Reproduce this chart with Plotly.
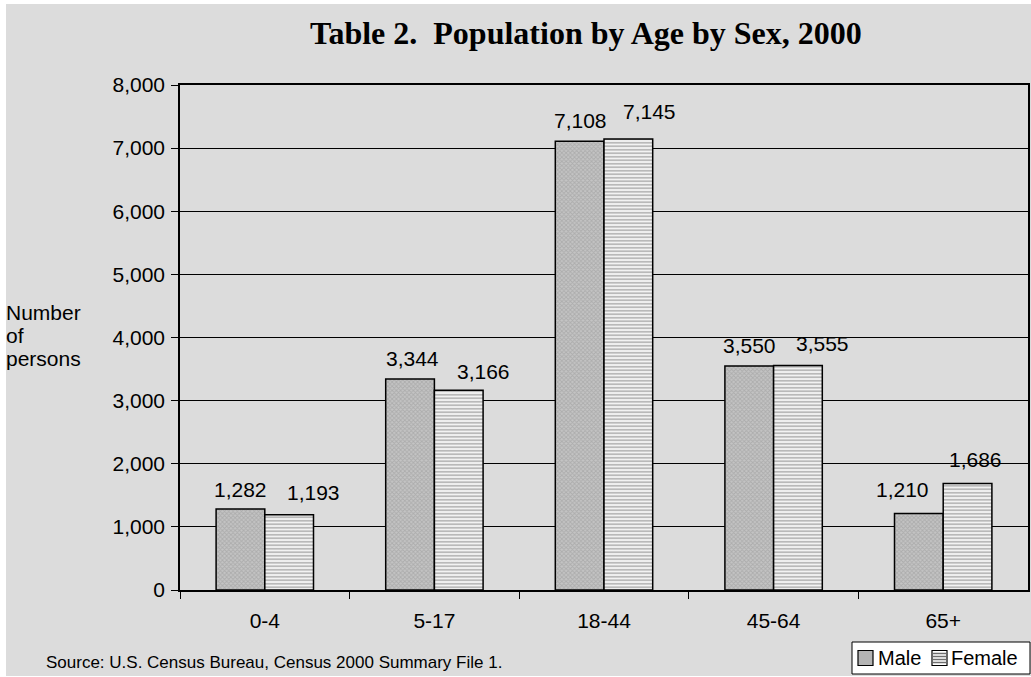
import plotly.graph_objects as go

# Population by age group and sex, Census 2000
age_groups = ["0-4", "5-17", "18-44", "45-64", "65+"]
male = [1282, 3344, 7108, 3550, 1210]
female = [1193, 3166, 7145, 3555, 1686]
y_ticks = [0, 1000, 2000, 3000, 4000, 5000, 6000, 7000, 8000]

# value-label nudges in pixels (dx right, dy up from the bar top)
male_label_dx = [0, 2, 1, 0, -16]
male_label_dy = [20, 20, 21, 20, 24]
female_label_dx = [24, 25, 21, 25, 8]
female_label_dy = [22, 19, 27, 22, 24]

W, H = 1031, 677
PX0, PX1 = 180, 1028   # plot area, pixels from left
PY0, PY1 = 85, 590     # plot area, pixels from top
BAR_PX = 48.7          # bar width in pixels

MALE_FILL, MALE_HATCH = "#c4c4c4", "#949494"
FEMALE_FILL, FEMALE_HATCH = "white", "#747474"

def px(x):
    return x / W

def py(y):
    return 1 - y / H

sans = "Arial, Liberation Sans, sans-serif"
serif = "Times New Roman, Liberation Serif, serif"

fig = go.Figure()
fig.add_trace(go.Bar(
    name="Male", x=age_groups, y=male,
    marker=dict(color=MALE_FILL, line=dict(color="black", width=1.5),
                pattern=dict(shape="x", fgcolor=MALE_HATCH, size=3, solidity=0.5)),
))
fig.add_trace(go.Bar(
    name="Female", x=age_groups, y=female,
    marker=dict(color=FEMALE_FILL, line=dict(color="black", width=1.5),
                pattern=dict(shape="-", fgcolor=FEMALE_HATCH, size=3.5, solidity=0.6)),
))

# value labels above each bar
for vals, sign, dxs, dys in ((male, -1, male_label_dx, male_label_dy),
                             (female, 1, female_label_dx, female_label_dy)):
    for cat, v, dx, dy in zip(age_groups, vals, dxs, dys):
        fig.add_annotation(x=cat, y=v, xref="x", yref="y", text=f"{v:,}",
                           showarrow=False, xanchor="center", yanchor="middle",
                           xshift=sign * BAR_PX / 2 + dx, yshift=dy,
                           font=dict(family=sans, size=21, color="black"))

# gray page panel inside a thin white border
shapes = [dict(type="rect", xref="paper", yref="paper", layer="below",
               x0=px(6), x1=1.0, y0=py(676), y1=py(4),
               fillcolor="#dcdcdc", line=dict(width=0))]

# compact legend box in the lower right corner
shapes.append(dict(type="rect", xref="paper", yref="paper", layer="above",
                   x0=px(852), x1=px(1030), y0=py(674), y1=py(642),
                   fillcolor="white", line=dict(color="black", width=1)))
# male swatch
shapes.append(dict(type="rect", xref="paper", yref="paper", layer="above",
                   x0=px(858), x1=px(873), y0=py(665.5), y1=py(650.5),
                   fillcolor="#b4b4b4", line=dict(color="black", width=1.2)))
# female swatch with horizontal stripes
shapes.append(dict(type="rect", xref="paper", yref="paper", layer="above",
                   x0=px(932), x1=px(947), y0=py(665.5), y1=py(650.5),
                   fillcolor="white", line=dict(color="black", width=1.2)))
for yy in (653.5, 656.5, 659.5, 662.5):
    shapes.append(dict(type="line", xref="paper", yref="paper", layer="above",
                       x0=px(933), x1=px(946), y0=py(yy), y1=py(yy),
                       line=dict(color="#6e6e6e", width=1.5)))

fig.update_layout(
    width=W, height=H,
    margin=dict(l=0, r=0, t=0, b=0, pad=0, autoexpand=False),
    paper_bgcolor="white", plot_bgcolor="white",
    barmode="group", bargap=1 - 2 * BAR_PX / ((PX1 - PX0) / 5), bargroupgap=0,
    font=dict(family=sans, size=21, color="black"),
    showlegend=False,
    shapes=shapes,
    xaxis=dict(type="category", domain=[px(PX0), px(PX1)], automargin=False,
               showline=True, linecolor="black", linewidth=1.5, mirror=True,
               ticks="outside", tickson="boundaries", ticklen=7, tickcolor="black",
               ticklabelstandoff=11, tickfont=dict(size=21), showgrid=False),
    yaxis=dict(domain=[py(PY1), py(PY0)], range=[0, 8000], tickvals=y_ticks, tickformat=",",
               automargin=False,
               showline=True, linecolor="black", linewidth=1.5, mirror=True,
               ticks="outside", ticklen=7, tickcolor="black", ticklabelstandoff=2,
               showgrid=True, gridcolor="black", gridwidth=1, zeroline=False,
               tickfont=dict(size=21)),
)

fig.add_annotation(text="<b>Table 2.  Population by Age by Sex, 2000</b>",
                   xref="paper", yref="paper", x=px(586), y=py(33),
                   xanchor="center", yanchor="middle", showarrow=False,
                   font=dict(family=serif, size=32, color="black"))

for word, yc in (("Number", 312), ("of", 335), ("persons", 358)):
    fig.add_annotation(text=word, xref="paper", yref="paper", x=px(4), y=py(yc),
                       xanchor="left", yanchor="middle", showarrow=False,
                       font=dict(size=21))

# legend labels
for name, xl in (("Male", 876), ("Female", 949)):
    fig.add_annotation(text=name, xref="paper", yref="paper", x=px(xl), y=py(658),
                       xanchor="left", yanchor="middle", showarrow=False,
                       font=dict(size=20))

fig.add_annotation(text="Source: U.S. Census Bureau, Census 2000 Summary File 1.",
                   xref="paper", yref="paper", x=px(44), y=py(662),
                   xanchor="left", yanchor="middle", showarrow=False,
                   font=dict(size=17))

fig.write_html("out.html")
